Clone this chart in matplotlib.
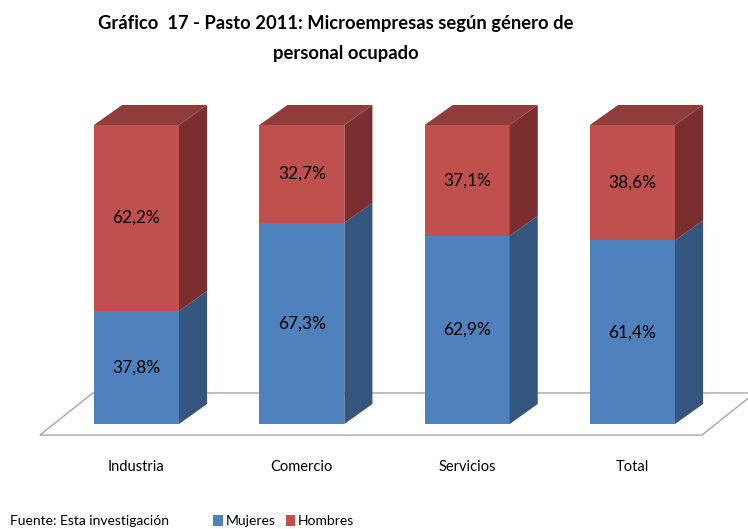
import matplotlib.pyplot as plt
from matplotlib.patches import Polygon

categories = ['Industria', 'Comercio', 'Servicios', 'Total']
mujeres = [37.8, 67.3, 62.9, 61.4]
hombres = [62.2, 32.7, 37.1, 38.6]

plt.rcParams['font.family'] = ['Lato', 'DejaVu Sans']

blue_front, blue_side = '#4F81BD', '#34557D'
red_front, red_side, red_top = '#C0504D', '#7A2F2E', '#8F3C3A'

# bar geometry in data units
width = 0.514
dx, dy = 0.17, 6.7

fig = plt.figure(figsize=(7.48, 5.29), dpi=100)
ax = fig.add_axes([0, 0, 1, 1])
ax.set_xlim(-0.8256, 3.6986)
ax.set_ylim(-35.1, 141.8)
ax.axis('off')

# floor
fx0, fx1 = -0.584, 3.42
fy0, fy1 = -3.7, 10.4
fdx = 0.32
floor = Polygon([(fx0, fy0), (fx1, fy0), (fx1 + fdx, fy1), (fx0 + fdx, fy1)],
                closed=True, facecolor='white', edgecolor='#A6A6A6', lw=1.0, zorder=1)
ax.add_patch(floor)

for i, (m, h) in enumerate(zip(mujeres, hombres)):
    x0 = i - width / 2
    x1 = i + width / 2
    segs = [(0, m, blue_front, blue_side), (m, m + h, red_front, red_side)]
    for b, t, fc, sc in segs:
        ax.add_patch(Polygon([(x0, b), (x1, b), (x1, t), (x0, t)],
                             facecolor=fc, edgecolor='none', zorder=2))
        ax.add_patch(Polygon([(x1, b), (x1 + dx, b + dy), (x1 + dx, t + dy), (x1, t)],
                             facecolor=sc, edgecolor='none', zorder=2))
        ax.text(i, (b + t) / 2, f'{t - b:.1f}%'.replace('.', ','),
                ha='center', va='center', fontsize=12.5, color='black', zorder=3)
    top = m + h
    ax.add_patch(Polygon([(x0, top), (x1, top), (x1 + dx, top + dy), (x0 + dx, top + dy)],
                         facecolor=red_top, edgecolor='none', zorder=2))
    ax.text(i, -14.4, categories[i], ha='center', va='center', fontsize=10.5)

fig.text(0.449, 0.955, 'Gráfico  17 - Pasto 2011: Microempresas según género de',
         ha='center', va='center', fontsize=13.2, fontweight='bold')
fig.text(0.463, 0.899, 'personal ocupado',
         ha='center', va='center', fontsize=13.2, fontweight='bold')

fig.text(0.013, 0.016, 'Fuente: Esta investigación', ha='left', va='center', fontsize=10)
fig.patches.append(plt.Rectangle((0.285, 0.006), 0.013, 0.021, facecolor=blue_front,
                                 transform=fig.transFigure, figure=fig))
fig.text(0.302, 0.015, 'Mujeres', ha='left', va='center', fontsize=10)
fig.patches.append(plt.Rectangle((0.382, 0.006), 0.013, 0.021, facecolor=red_front,
                                 transform=fig.transFigure, figure=fig))
fig.text(0.398, 0.015, 'Hombres', ha='left', va='center', fontsize=10)

fig.savefig('out.png', dpi=100)
